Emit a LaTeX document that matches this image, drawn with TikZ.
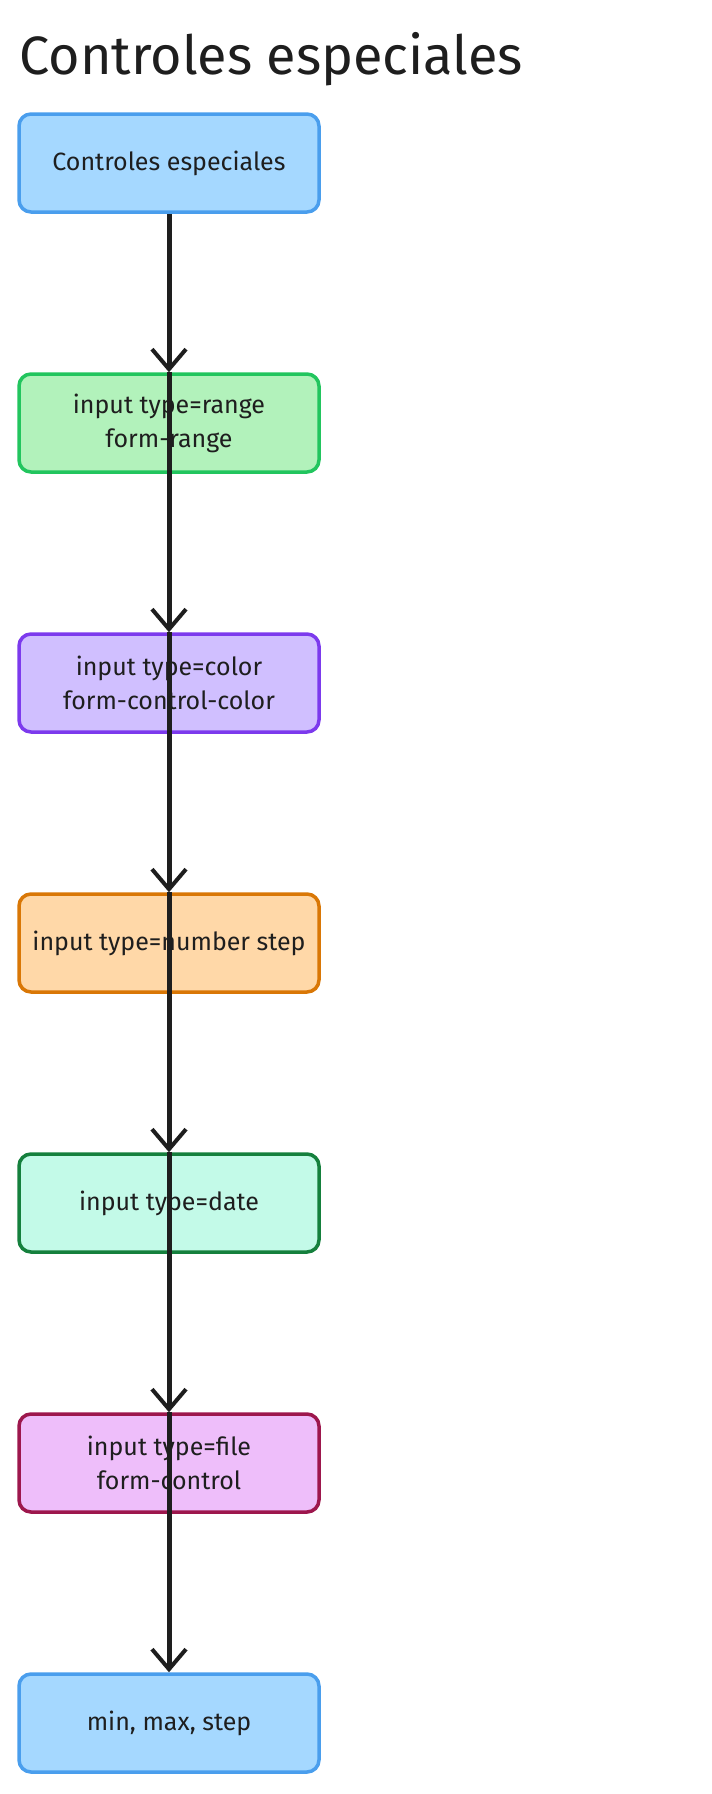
\documentclass[tikz,border=0pt]{standalone}
\usepackage{fontspec}
\setmainfont{Fira Sans}
\usetikzlibrary{arrows.meta}
\definecolor{f1}{HTML}{A5D8FF}\definecolor{s1}{HTML}{4A9EED}
\definecolor{f2}{HTML}{B2F2BB}\definecolor{s2}{HTML}{22C55E}
\definecolor{f3}{HTML}{D0BFFF}\definecolor{s3}{HTML}{7C3AED}
\definecolor{f4}{HTML}{FFD8A8}\definecolor{s4}{HTML}{D97706}
\definecolor{f5}{HTML}{C3FAE8}\definecolor{s5}{HTML}{15803D}
\definecolor{f6}{HTML}{EEBEFA}\definecolor{s6}{HTML}{9D174D}
\definecolor{ink}{HTML}{1E1E1E}
\begin{document}
\begin{tikzpicture}[x=1pt,y=-1pt,
 box/.style={draw=#1,line width=3.5pt,rounded corners=12pt,minimum width=300pt,minimum height=98pt,align=center,font=\fontsize{25}{34}\selectfont,text=ink,inner sep=2pt},
 arr/.style={draw=ink,line width=5pt,-{Straight Barb[length=20pt,width=34pt,line width=4pt]}}]
\useasboundingbox (0,0) rectangle (712,1794);
\node[anchor=base west,font=\fontsize{54}{60}\selectfont,text=ink] (t) at (16,74) {Controles especiales};
\node[box=s1,fill=f1] (a) at (169,163) {Controles especiales};
\node[box=s2,fill=f2] (b) at (169,423) {input type=range\\form-range};
\node[box=s3,fill=f3] (c) at (169,683) {input type=color\\form-control-color};
\node[box=s4,fill=f4] (d) at (169,943) {input type=number step};
\node[box=s5,fill=f5] (e) at (169,1203) {input type=date};
\node[box=s6,fill=f6] (f) at (169,1463) {input type=file\\form-control};
\node[box=s1,fill=f1] (g) at (169,1723) {min, max, step};
\draw[arr] (a.south) -- (b.north);
\draw[arr] (b.north) -- (c.north);
\draw[arr] (c.north) -- (d.north);
\draw[arr] (d.north) -- (e.north);
\draw[arr] (e.north) -- (f.north);
\draw[arr] (f.north) -- (g.north);
\end{tikzpicture}
\end{document}
